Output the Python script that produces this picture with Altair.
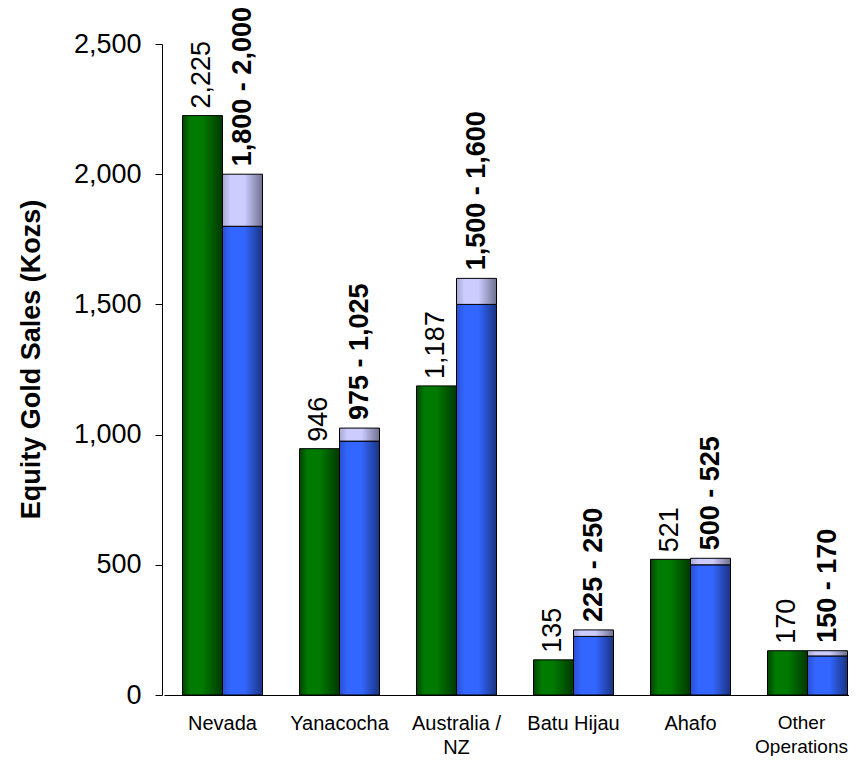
import altair as alt
import pandas as pd

categories = ["Nevada", "Yanacocha", "Australia / NZ", "Batu Hijau", "Ahafo", "Other Operations"]
actual = [2225, 946, 1187, 135, 521, 170]
guide_low = [1800, 975, 1500, 225, 500, 150]
guide_high = [2000, 1025, 1600, 250, 525, 170]
y_ticks = [0, 500, 1000, 1500, 2000, 2500]

df = pd.DataFrame({
    "cat": categories,
    "actual": actual,
    "low": guide_low,
    "high": guide_high,
})
df["actual_label"] = [f"{v:,}" for v in actual]
df["guide_label"] = [f"{l:,} - {h:,}" for l, h in zip(guide_low, guide_high)]

FONT = "Liberation Sans"

x_enc = alt.X(
    "cat:N",
    sort=categories,
    scale=alt.Scale(range=[2, 704], paddingInner=0.316, paddingOuter=0.158),
    axis=alt.Axis(
        title=None, labelAngle=0, ticks=False,
        labelFontSize={"condition": {"test": "datum.value == 'Other Operations'", "value": 19}, "value": 20},
        labelOffset={"condition": {"test": "datum.value == 'Other Operations'", "value": -6}, "value": 0},
        labelFont=FONT,
        labelColor="black", domainColor="black", labelPadding=18, labelLineHeight=24,
        labelExpr="datum.value == 'Australia / NZ' ? ['Australia /', 'NZ'] : (datum.value == 'Other Operations' ? ['Other', 'Operations'] : datum.value)",
    ),
)
y_scale = alt.Scale(domain=[0, 2500], nice=False)
y_axis = alt.Axis(
    title="Equity Gold Sales (Kozs)", titleFontSize=27, titleFont=FONT, titleFontWeight="bold",
    titleColor="black", titleX=-131, titleY=315, titleAlign="center", titleBaseline="middle",
    titleAngle=270,
    values=y_ticks, format=",.0f",
    labelFontSize=27, labelFont=FONT, labelColor="black", labelPadding=14,
    tickSize=7, tickColor="black", domainColor="black", grid=False,
)
off_scale = alt.Scale(domain=["actual", "guide"], paddingInner=0, paddingOuter=0)


def grad(stops):
    return alt.Gradient(
        gradient="linear", x1=0, x2=1, y1=0, y2=0,
        stops=[alt.GradientStop(offset=o, color=c) for o, c in stops],
    )


green = grad([(0, "#004400"), (0.2, "#007a00"), (0.5, "#007a00"), (1, "#003800")])
blue = grad([(0, "#2a4fd0"), (0.2, "#3366ff"), (0.55, "#3366ff"), (1, "#1a3380")])
lav = grad([(0, "#a8a8d0"), (0.2, "#ccccff"), (0.55, "#ccccff"), (1, "#707090")])

base = alt.Chart(df)

bars_actual = base.mark_bar(color=green, stroke="black", strokeWidth=1).encode(
    x=x_enc, y=alt.Y("actual:Q", scale=y_scale, axis=y_axis),
    xOffset=alt.XOffset(datum="actual", type="nominal", scale=off_scale),
)
bars_low = base.mark_bar(color=blue, stroke="black", strokeWidth=1).encode(
    x=x_enc, y=alt.Y("low:Q", scale=y_scale),
    xOffset=alt.XOffset(datum="guide", type="nominal", scale=off_scale),
)
bars_range = base.mark_bar(color=lav, stroke="black", strokeWidth=1).encode(
    x=x_enc, y=alt.Y("low:Q", scale=y_scale), y2="high:Q",
    xOffset=alt.XOffset(datum="guide", type="nominal", scale=off_scale),
)
text_actual = base.mark_text(
    angle=270, align="left", baseline="middle", dx=7, fontSize=27, font=FONT, color="black",
).encode(
    x=x_enc, y=alt.Y("actual:Q", scale=y_scale), text="actual_label:N",
    xOffset=alt.XOffset(datum="actual", type="nominal", scale=off_scale),
)
text_guide = base.mark_text(
    angle=270, align="left", baseline="middle", dx=8, fontSize=27, font=FONT,
    fontWeight="bold", color="black",
).encode(
    x=x_enc, y=alt.Y("high:Q", scale=y_scale), text="guide_label:N",
    xOffset=alt.XOffset(datum="guide", type="nominal", scale=off_scale),
)

chart = alt.layer(bars_actual, bars_low, bars_range, text_actual, text_guide).properties(
    width=687, height=651,
    autosize=alt.AutoSizeParams(type="none"),
    padding={"left": 154, "top": 36, "right": 0, "bottom": 61},
    background="white",
).configure_view(stroke=None)

chart.save("out.html", embed_options={"renderer": "svg", "actions": False})
